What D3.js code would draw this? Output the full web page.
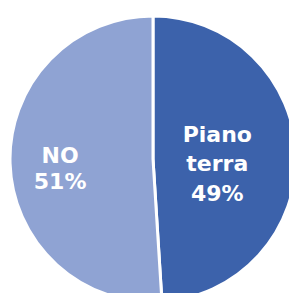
<!DOCTYPE html>
<html>
<head>
<meta charset="utf-8">
<script src="https://cdn.jsdelivr.net/npm/d3@7"></script>
<style>
  html, body { margin: 0; padding: 0; background: #fff; overflow: hidden; }
  .pie-label { font-family: "DejaVu Sans", sans-serif; font-weight: bold; fill: #fff; }
</style>
</head>
<body>
<svg id="chart"></svg>
<script>
// slice data, clockwise from 12 o'clock
var labels = ["Piano terra", "NO"];
var values = [49, 51];
var colors = ["#3c62ab", "#8fa3d3"];

var W = 289, H = 293;
var cx = 153, cy = 159, r = 143;

var svg = d3.select("#chart").attr("width", W).attr("height", H);
var g = svg.append("g").attr("transform", "translate(" + cx + "," + cy + ")");

var pie = d3.pie().sort(null).value(d => d.v);
var arcs = pie(labels.map((l, i) => ({ k: l, v: values[i], c: colors[i] })));

var arc = d3.arc().innerRadius(0).outerRadius(r);

g.selectAll("path.slice")
  .data(arcs).enter()
  .append("path")
  .attr("class", "slice")
  .attr("d", arc)
  .attr("fill", d => d.data.c)
  .attr("stroke", "#fff")
  .attr("stroke-width", 3);

// labels, split on spaces, one line each plus the percent
var labelR = [0.45, 0.65];
var lineH = [29.5, 26];
var fs = 22;

g.selectAll("text.pie-label")
  .data(arcs).enter()
  .append("text")
  .attr("class", "pie-label")
  .attr("text-anchor", "middle")
  .style("font-size", fs + "px")
  .each(function(d, i) {
    var lab = d3.arc().innerRadius(r * labelR[i]).outerRadius(r * labelR[i]);
    var c = lab.centroid(d);
    var lines = d.data.k.split(" ").concat([d.data.v + "%"]);
    var t = d3.select(this);
    var lh = lineH[i];
    var y0 = c[1] - (lines.length - 1) * lh / 2 + fs * 0.65;
    lines.forEach((s, j) => {
      t.append("tspan").attr("x", c[0]).attr("y", y0 + j * lh).text(s);
    });
  });
</script>
</body>
</html>
